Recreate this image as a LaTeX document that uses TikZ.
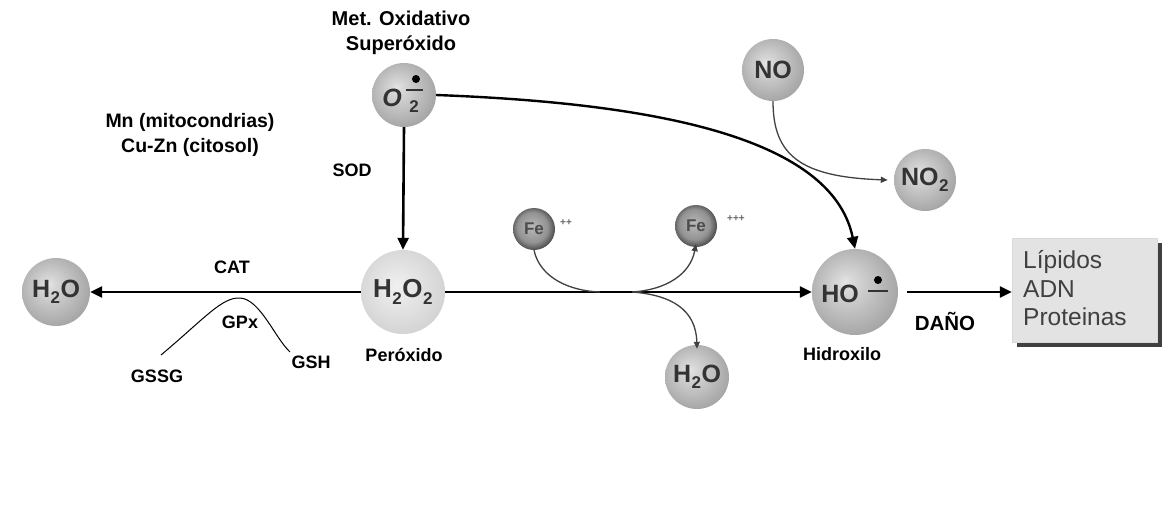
\documentclass[tikz,border=0pt]{standalone}
\usepackage{fontspec}
\setmainfont{Liberation Sans}
\usetikzlibrary{arrows.meta,shadings}
\pgfdeclareradialshading{sph}{\pgfpoint{-6bp}{6bp}}{color(0bp)=(white!80!gray); color(4bp)=(gray!30); color(16bp)=(gray!50); color(28bp)=(gray!70); color(50bp)=(gray!70)}
\pgfdeclareradialshading{sphlight}{\pgfpoint{-4bp}{4bp}}{color(0bp)=(gray!12); color(8bp)=(gray!18); color(20bp)=(gray!28); color(28bp)=(gray!35); color(50bp)=(gray!35)}
\pgfdeclareradialshading{sphdark}{\pgfpoint{-3bp}{3bp}}{color(0bp)=(gray!55); color(6bp)=(gray!65); color(18bp)=(gray!85); color(28bp)=(black!75); color(50bp)=(black!75)}
\newcommand\subtwo[1]{\kern0.5pt\raisebox{-0.45ex}{\fontsize{17}{17}\selectfont #1}\kern0.5pt}
\tikzset{
  sphere/.style={circle, shading=sph, inner sep=0pt, text=black!80,
     font=\bfseries\fontsize{25}{27}\selectfont},
  lightsphere/.style={sphere, shading=sphlight},
  fesphere/.style={circle, shading=sphdark, inner sep=0pt, minimum size=42pt, font=\bfseries\fontsize{17}{18}\selectfont, text=black!70},
  lbl/.style={font=\bfseries\fontsize{18}{20}\selectfont, text=black, inner sep=0pt},
  biglbl/.style={font=\bfseries\fontsize{20}{25}\selectfont, text=black, inner sep=0pt, align=center},
  mainarrow/.style={line width=2.6pt, -{Triangle[length=12pt,width=11pt]}},
  thinline/.style={line width=1.3pt, draw=black!75},
  thinarrow/.style={thinline, -{Triangle[length=7pt,width=6pt]}},
  plus/.style={font=\bfseries\fontsize{10}{10}\selectfont, text=black!60, inner sep=0pt},
  boxtxt/.style={font=\fontsize{24.5}{28.5}\selectfont, text=black!75, anchor=base west, inner sep=0pt},
}
\begin{document}
\begin{tikzpicture}[x=1pt,y=-1pt]
\useasboundingbox (0,0) rectangle (1173,506);

% labels
\node[biglbl] (title) at (401,33) {Met. Oxidativo\\Superóxido};
\node[biglbl, font=\bfseries\fontsize{19.5}{25}\selectfont] (sodsrc) at (190,135) {Mn (mitocondrias)\\Cu-Zn (citosol)};
\node[lbl] (sod) at (352,170) {SOD};
\node[lbl] (cat) at (232,267) {CAT};
\node[lbl] (gpx) at (240,322) {GPx};
\node[lbl] (gssg) at (157,376) {GSSG};
\node[lbl] (gsh) at (311,362) {GSH};
\node[lbl] (perox) at (404,355) {Peróxido};
\node[lbl] (hidrox) at (842,354) {Hidroxilo};
\node[lbl, font=\bfseries\fontsize{20.5}{22}\selectfont] (dano) at (945,321) {DAÑO};

% spheres
\node[sphere, minimum size=64pt] (o2) at (404,95) {};
\node[font=\bfseries\itshape\fontsize{25}{25}\selectfont, text=black!80, inner sep=0pt] (o2t) at (392,98) {O};
\node[font=\bfseries\fontsize{17}{17}\selectfont, text=black!80, inner sep=0pt] (o2s) at (414,107) {2};
\fill[black] (416,79) circle (4pt);
\draw[line width=1.5pt, black!80] (406,90) -- (423,90);

\node[sphere, minimum size=62pt] (no) at (773,70) {NO};
\node[sphere, minimum size=62pt] (no2) at (925,180) {NO\subtwo{2}};
\node[lightsphere, minimum size=84pt, font=\bfseries\fontsize{26}{27}\selectfont] (h2o2) at (403,292) {H\subtwo{2}O\subtwo{2}};
\node[sphere, minimum size=68pt] (h2oL) at (56,292) {H\subtwo{2}O};
\node[sphere, minimum size=64pt] (h2oB) at (697,377) {H\subtwo{2}O};
\node[sphere, minimum size=86pt] (ho) at (855,292) {};
\node[font=\bfseries\fontsize{25}{25}\selectfont, text=black!80, inner sep=0pt] (hot) at (840,294) {HO};
\fill[black] (878,280) circle (4pt);
\draw[line width=1.5pt, black!80] (868,291) -- (888,291);

\node[fesphere] (fe2) at (534,229) {Fe};
\node[plus] (fe2p) at (566,223) {++};
\node[fesphere] (fe3) at (696,226) {Fe};
\node[plus] (fe3p) at (736,219) {+++};

% box
\fill[black!75] (1017,243) rectangle (1162,347);
\node[draw=black!15, fill=gray!22, minimum width=145pt, minimum height=104pt, inner sep=0pt] (box) at (1084.5,290) {};
\node[boxtxt] (boxl1) at (1023,268) {Lípidos};
\node[boxtxt] (boxl2) at (1023,297) {ADN};
\node[boxtxt] (boxl3) at (1023,325) {Proteinas};

% main arrows
\draw[mainarrow] (o2.south) -- (h2o2.north);
\draw[mainarrow] (h2o2.west) -- (h2oL.east);
\draw[mainarrow] (h2o2.east) -- (ho.west);
\coordinate (dstart) at (907,292);
\draw[mainarrow] (dstart) -- (box.west |- dstart);
\draw[mainarrow, line width=2.4pt] (o2.east) .. controls (650,103) and (832,136) .. (ho.north);

% GPx curve
\coordinate (gl) at (161,355);
\coordinate (gr) at (290,352);
\draw[line width=1pt] (gl) .. controls (205,318) and (222,297) .. (240,298) .. controls (260,299) and (275,338) .. (gr);

% NO curve
\draw[thinarrow] (no.south) .. controls (773,155) and (800,177) .. ([xshift=-6pt]no2.west);

% Fe curves
\coordinate (m1) at (600,292);
\coordinate (m2) at (632,292);
\draw[thinline] (fe2.south) .. controls (540,278) and (570,291) .. (m1);
\draw[thinarrow] (m2) .. controls (665,290) and (690,275) .. ([yshift=3pt]fe3.south);
\draw[thinarrow] (m2) .. controls (672,295) and (696,310) .. ([yshift=-4pt]h2oB.north);
\end{tikzpicture}
\end{document}
